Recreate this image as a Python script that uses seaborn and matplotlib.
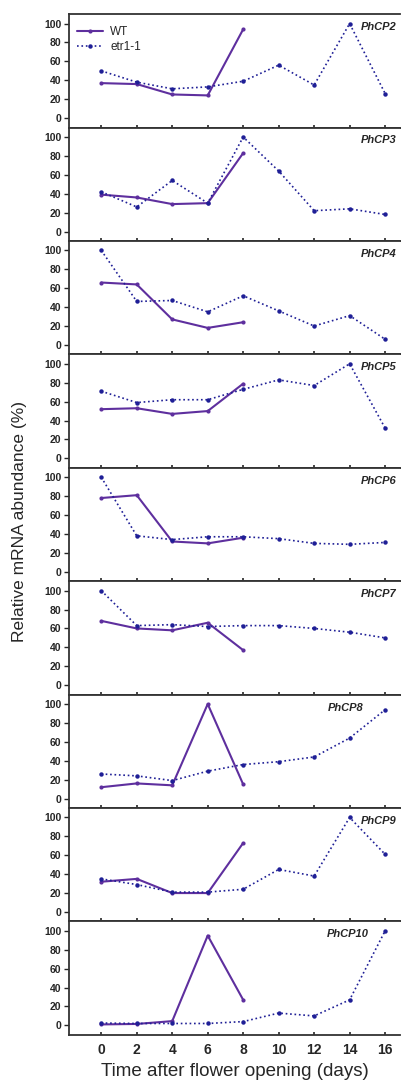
import numpy as np
import pandas as pd
import matplotlib
matplotlib.use('Agg')
import matplotlib.pyplot as plt
import seaborn as sns

# Datos (abundancia relativa, %)
dias_wt = [0, 2, 4, 6, 8]
dias_etr = [0, 2, 4, 6, 8, 10, 12, 14, 16]
genes = ['PhCP2', 'PhCP3', 'PhCP4', 'PhCP5', 'PhCP6', 'PhCP7', 'PhCP8', 'PhCP9', 'PhCP10']

wt_cp2 = [37, 36, 25, 24, 94]
wt_cp3 = [39, 36, 29, 30, 83]
wt_cp4 = [66, 64, 27, 18, 24]
wt_cp5 = [52, 53, 47, 50, 79]
wt_cp6 = [78, 81, 32, 30, 36]
wt_cp7 = [68, 60, 58, 66, 37]
wt_cp8 = [12, 16, 14, 100, 15]
wt_cp9 = [32, 35, 20, 20, 73]
wt_cp10 = [1, 1.5, 4.5, 95, 27]

etr_cp2 = [50, 38, 31, 33, 39, 56, 35, 100, 26]
etr_cp3 = [42, 26, 54, 30, 100, 64, 22, 24, 18]
etr_cp4 = [100, 46, 47, 35, 52, 36, 20, 31, 6]
etr_cp5 = [71, 59, 62, 62, 73, 83, 77, 100, 32]
etr_cp6 = [100, 38, 34, 37, 37, 35, 30, 29, 31]
etr_cp7 = [100, 63, 64, 62, 63, 63, 60, 56, 50]
etr_cp8 = [26, 24, 19, 29, 36, 39, 44, 64, 94]
etr_cp9 = [35, 29, 21, 21, 24, 45, 38, 100, 61]
etr_cp10 = [2.5, 2, 2, 2, 4, 13, 10, 27, 100]

wt_all = [wt_cp2, wt_cp3, wt_cp4, wt_cp5, wt_cp6, wt_cp7, wt_cp8, wt_cp9, wt_cp10]
etr_all = [etr_cp2, etr_cp3, etr_cp4, etr_cp5, etr_cp6, etr_cp7, etr_cp8, etr_cp9, etr_cp10]

# posicion de la etiqueta del gen (fraccion del eje x)
label_x = [0.99, 0.99, 0.99, 0.99, 0.99, 0.99, 0.89, 0.99, 0.905]

sns.set_style('ticks')
plt.rcParams['font.family'] = ['Liberation Sans', 'DejaVu Sans']

COL_WT = '#5e2f9e'
COL_ETR = '#1f1f96'

fig, axes = plt.subplots(9, 1, figsize=(4.01, 10.87), dpi=100, sharex=True)
fig.subplots_adjust(left=0.172, right=0.998, top=0.987, bottom=0.048, hspace=0)

for i, ax in enumerate(axes):
    df_wt = pd.DataFrame({'dia': dias_wt, 'valor': wt_all[i]})
    df_etr = pd.DataFrame({'dia': dias_etr, 'valor': etr_all[i]})
    sns.lineplot(data=df_wt, x='dia', y='valor', ax=ax, color=COL_WT, lw=1.5,
                 marker='o', markersize=3, markeredgewidth=0, label='WT')
    sns.lineplot(data=df_etr, x='dia', y='valor', ax=ax, color=COL_ETR, lw=1.2,
                 linestyle=':', marker='o', markersize=3.2, markeredgewidth=0, label='etr1-1')
    ax.set_xlim(-1.82, 16.85)
    ax.set_ylim(-10, 110)
    ax.set_yticks([0, 20, 40, 60, 80, 100])
    ax.set_xticks(dias_etr)
    ax.set_xlabel('')
    ax.set_ylabel('')
    ax.tick_params(axis='y', direction='out', length=3.5, width=1, labelsize=7.5, pad=2)
    ax.tick_params(axis='x', direction='in', length=2.5, width=1.2, labelsize=10, pad=6)
    for lab in ax.get_yticklabels():
        lab.set_fontweight('bold')
    for s in ['left', 'top', 'bottom']:
        ax.spines[s].set_linewidth(1.3)
        ax.spines[s].set_color('#333333')
    ax.spines['right'].set_visible(False)
    ax.text(label_x[i], 0.93, genes[i], transform=ax.transAxes, ha='right', va='top',
            fontsize=8, fontweight='bold', fontstyle='italic')
    if i == 0:
        ax.legend(loc='upper left', bbox_to_anchor=(0.0, 0.97), frameon=False, fontsize=8.5,
                  handlelength=2.2, borderaxespad=0.3, labelspacing=0.25, handletextpad=0.6)
    else:
        ax.get_legend().remove()

for lab in axes[-1].get_xticklabels():
    lab.set_fontweight('bold')

axes[-1].set_xlabel('Time after flower opening (days)', fontsize=13.5, labelpad=4)
fig.text(0.048, 0.52, 'Relative mRNA abundance (%)', rotation=90, ha='center', va='center',
         fontsize=12.5)

fig.savefig('out.png', dpi=100)
